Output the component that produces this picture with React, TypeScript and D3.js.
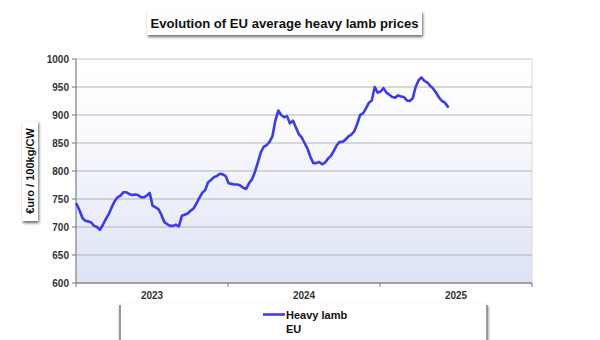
import React from "react";
import * as d3 from "d3";

const years = ["2023", "2024", "2025"];
const weeksPerYear = 52;
const yTicks = [600, 650, 700, 750, 800, 850, 900, 950, 1000];
const seriesName = "Heavy lamb";
const seriesSub = "EU";
const heavyLambEU = [
  741, 730, 716, 711, 710, 708, 702, 700, 695, 704,
  714, 723, 735, 746, 753, 756, 762, 762, 759, 757,
  758, 757, 753, 753, 756, 761, 738, 735, 732, 722,
  709, 705, 702, 702, 704, 701, 720, 722, 724, 729,
  733, 742, 752, 761, 766, 780, 784, 789, 791, 795,
  794, 791, 778, 777, 776, 776, 774, 770, 768, 778,
  785, 798, 815, 833, 843, 846, 852, 862, 890, 908,
  900, 896, 898, 885, 890, 878, 866, 860, 850, 840,
  825, 814, 814, 816, 812, 815, 822, 827, 836, 846,
  852, 852, 856, 862, 865, 871, 884, 900, 903, 912,
  922, 926, 950, 940, 942, 948, 940, 936, 932, 931,
  935, 933, 932, 926, 925, 930, 950, 962, 967, 961,
  958, 952, 947, 940, 931, 925, 922, 915,
];

const W = 600;
const H = 340;
const M = { left: 76, right: 532, top: 59, bottom: 283 };

export default function App() {
  const x = d3
    .scaleLinear()
    .domain([0, years.length * weeksPerYear])
    .range([M.left, M.right]);
  const y = d3.scaleLinear().domain([600, 1000]).range([M.bottom, M.top]);
  const line = d3
    .line<number>()
    .x((_, i) => x(i + 0.2))
    .y((d) => y(d))
    .curve(d3.curveLinear);
  const font = "'Liberation Sans', Arial, sans-serif";
  const yearTicks = d3.range(years.length + 1).map((k) => k * weeksPerYear);

  return (
    <svg
      width={W}
      height={H}
      style={{ position: "absolute", left: 0, top: 0, background: "#fff" }}
      fontFamily={font}
    >
      <defs>
        <linearGradient id="bg" x1="0" y1="0" x2="0" y2="1">
          <stop offset="0%" stopColor="#ffffff" />
          <stop offset="30%" stopColor="#fafbfe" />
          <stop offset="100%" stopColor="#dce3f3" />
        </linearGradient>
        <filter id="sh" x="-10%" y="-30%" width="130%" height="180%">
          <feGaussianBlur in="SourceAlpha" stdDeviation="1.6" />
          <feOffset dx="1" dy="2" result="b" />
          <feComponentTransfer>
            <feFuncA type="linear" slope="0.6" />
          </feComponentTransfer>
          <feMerge>
            <feMergeNode />
            <feMergeNode in="SourceGraphic" />
          </feMerge>
        </filter>
      </defs>

      {/* title */}
      <rect x={147} y={11} width={275} height={24} fill="#fff" filter="url(#sh)" />
      <text
        x={284.5}
        y={28}
        textAnchor="middle"
        fontSize={13.2}
        fontWeight="bold"
        fill="#111"
        textLength={268}
        lengthAdjust="spacingAndGlyphs"
      >
        Evolution of EU average heavy lamb prices
      </text>

      {/* plot background */}
      <rect
        x={M.left}
        y={M.top}
        width={M.right - M.left}
        height={M.bottom - M.top}
        fill="url(#bg)"
        stroke="#d8d8d8"
        strokeWidth={1}
      />

      {/* grid */}
      {yTicks.map((t) => (
        <line
          key={t}
          x1={M.left}
          x2={M.right}
          y1={y(t)}
          y2={y(t)}
          stroke={t === 1000 ? "#d6d6d6" : "#b4b4b4"}
          strokeWidth={1}
        />
      ))}

      {/* axes */}
      <line x1={M.left} x2={M.left} y1={M.top} y2={M.bottom} stroke="#777" strokeWidth={1} />
      <line x1={M.left} x2={M.right} y1={M.bottom} y2={M.bottom} stroke="#777" strokeWidth={1} />
      {yTicks.map((t) => (
        <g key={"yt" + t}>
          <line x1={M.left - 4} x2={M.left} y1={y(t)} y2={y(t)} stroke="#777" />
          <text
            x={M.left - 7}
            y={y(t) + 3.5}
            textAnchor="end"
            fontSize={10}
            fontWeight="bold"
            fill="#333"
          >
            {t}
          </text>
        </g>
      ))}
      {yearTicks.map((t) => (
        <line key={"xt" + t} x1={x(t)} x2={x(t)} y1={M.bottom} y2={M.bottom + 4} stroke="#777" />
      ))}
      {years.map((yr, k) => (
        <text
          key={yr}
          x={x((k + 0.5) * weeksPerYear)}
          y={299}
          textAnchor="middle"
          fontSize={10}
          fontWeight="bold"
          fill="#333"
        >
          {yr}
        </text>
      ))}

      {/* y axis title */}
      <rect x={22} y={121} width={16} height={100} fill="#fff" filter="url(#sh)" />
      <text
        transform={`translate(34,171) rotate(-90)`}
        textAnchor="middle"
        fontSize={11}
        fontWeight="bold"
        fill="#111"
      >
        €uro / 100kg/CW
      </text>

      {/* series */}
      <path
        d={line(heavyLambEU) || ""}
        fill="none"
        stroke="#3b3bf2"
        strokeWidth={2.6}
        strokeLinejoin="round"
        strokeLinecap="round"
      />

      {/* legend */}
      <rect x={119} y={304} width={368} height={50} fill="#fff" filter="url(#sh)" />
      <line x1={120} x2={120} y1={305} y2={340} stroke="#999" strokeWidth={2} />
      <line x1={487} x2={487} y1={305} y2={340} stroke="#999" strokeWidth={2} />
      <line x1={263} x2={285} y1={314.5} y2={314.5} stroke="#3b3bf2" strokeWidth={2.6} />
      <text x={286} y={318.5} fontSize={11} fontWeight="bold" fill="#111">
        {seriesName}
      </text>
      <text x={286} y={333} fontSize={11} fontWeight="bold" fill="#111">
        {seriesSub}
      </text>
    </svg>
  );
}
